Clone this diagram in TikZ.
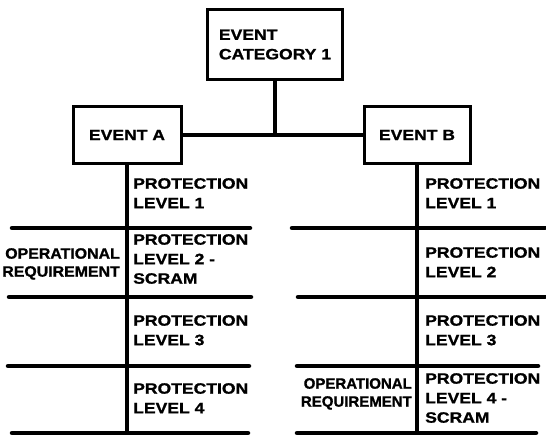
\documentclass[tikz,border=0pt]{standalone}
\usepackage{fontspec}
\newfontfamily\lbl{Liberation Sans}[FakeStretch=1.17, BoldFeatures={FakeBold=1.2}]
\newfontfamily\lblm{Liberation Sans}[FakeStretch=1.06, BoldFeatures={FakeBold=1.2}]
\newfontfamily\lblc{Liberation Sans}[FakeStretch=1.0, BoldFeatures={FakeBold=1.2}]
\begin{document}
\begin{tikzpicture}[x=1pt,y=-1pt,
  txt/.style={font=\lbl\bfseries\fontsize{15}{19.5}\selectfont, align=left, inner sep=0pt},
  txtm/.style={font=\lblm\bfseries\fontsize{15}{18}\selectfont, align=right, inner sep=0pt},
  txtc/.style={font=\lblc\bfseries\fontsize{15}{18}\selectfont, align=right, inner sep=0pt},
  evbox/.style={draw, line width=3pt, txt, align=left},
  conn/.style={line width=4.5pt},
  divline/.style={line width=4.5pt, line cap=round}]
\useasboundingbox (0,0) rectangle (546,435);
% boxes
\node[evbox, minimum width=135pt, minimum height=70pt] (cat) at (275,44.5) {EVENT\\CATEGORY 1};
\node[evbox, minimum width=108pt, minimum height=57pt] (a) at (127,135) {EVENT A};
\node[evbox, minimum width=106pt, minimum height=57pt] (b) at (417,135) {EVENT B};
\coordinate (bot) at (0,437);
\coordinate (j) at (cat.south |- a.east);
% connectors
\draw[conn] (cat.south) -- (j);
\draw[conn] (a.east) -- (b.west);
\draw[conn] (a.south) -- (a.south |- bot);
\draw[conn] (b.south) -- (b.south |- bot);
% dividers left
\coordinate (l1a) at (12,228);  \coordinate (l1b) at (250,228);
\coordinate (l2a) at (9,297);   \coordinate (l2b) at (251,297);
\coordinate (l3a) at (8,366);   \coordinate (l3b) at (249,366);
\coordinate (l4a) at (12,433);  \coordinate (l4b) at (248,433);
\draw[divline] (l1a) -- (l1b);
\draw[divline] (l2a) -- (l2b);
\draw[divline] (l3a) -- (l3b);
\draw[divline] (l4a) -- (l4b);
% dividers right
\coordinate (r1a) at (292,228); \coordinate (r1b) at (545,228);
\coordinate (r2a) at (298,297); \coordinate (r2b) at (545,297);
\coordinate (r3a) at (297,366); \coordinate (r3b) at (538,366);
\coordinate (r4a) at (297,433); \coordinate (r4b) at (536,433);
\draw[divline] (r1a) -- (r1b);
\draw[divline] (r2a) -- (r2b);
\draw[divline] (r3a) -- (r3b);
\draw[divline] (r4a) -- (r4b);
% left labels
\node[txt, anchor=north west] (pl1) at (133,178) {PROTECTION\\LEVEL 1};
\node[txt, anchor=north west] (pl2) at (133,234) {PROTECTION\\LEVEL 2 -\\SCRAM};
\node[txt, anchor=north west] (pl3) at (133,315) {PROTECTION\\LEVEL 3};
\node[txt, anchor=north west] (pl4) at (133,383) {PROTECTION\\LEVEL 4};
\node[txtm, anchor=north east] (opl) at (120,248) {OPERATIONAL\\REQUIREMENT};
% right labels
\node[txt, anchor=north west] (pr1) at (425,178) {PROTECTION\\LEVEL 1};
\node[txt, anchor=north west] (pr2) at (425,247) {PROTECTION\\LEVEL 2};
\node[txt, anchor=north west] (pr3) at (425,315) {PROTECTION\\LEVEL 3};
\node[txt, anchor=north west] (pr4) at (425,373) {PROTECTION\\LEVEL 4 -\\SCRAM};
\node[txtc, anchor=north east] (opr) at (412,378) {OPERATIONAL\\REQUIREMENT};
\end{tikzpicture}
\end{document}
